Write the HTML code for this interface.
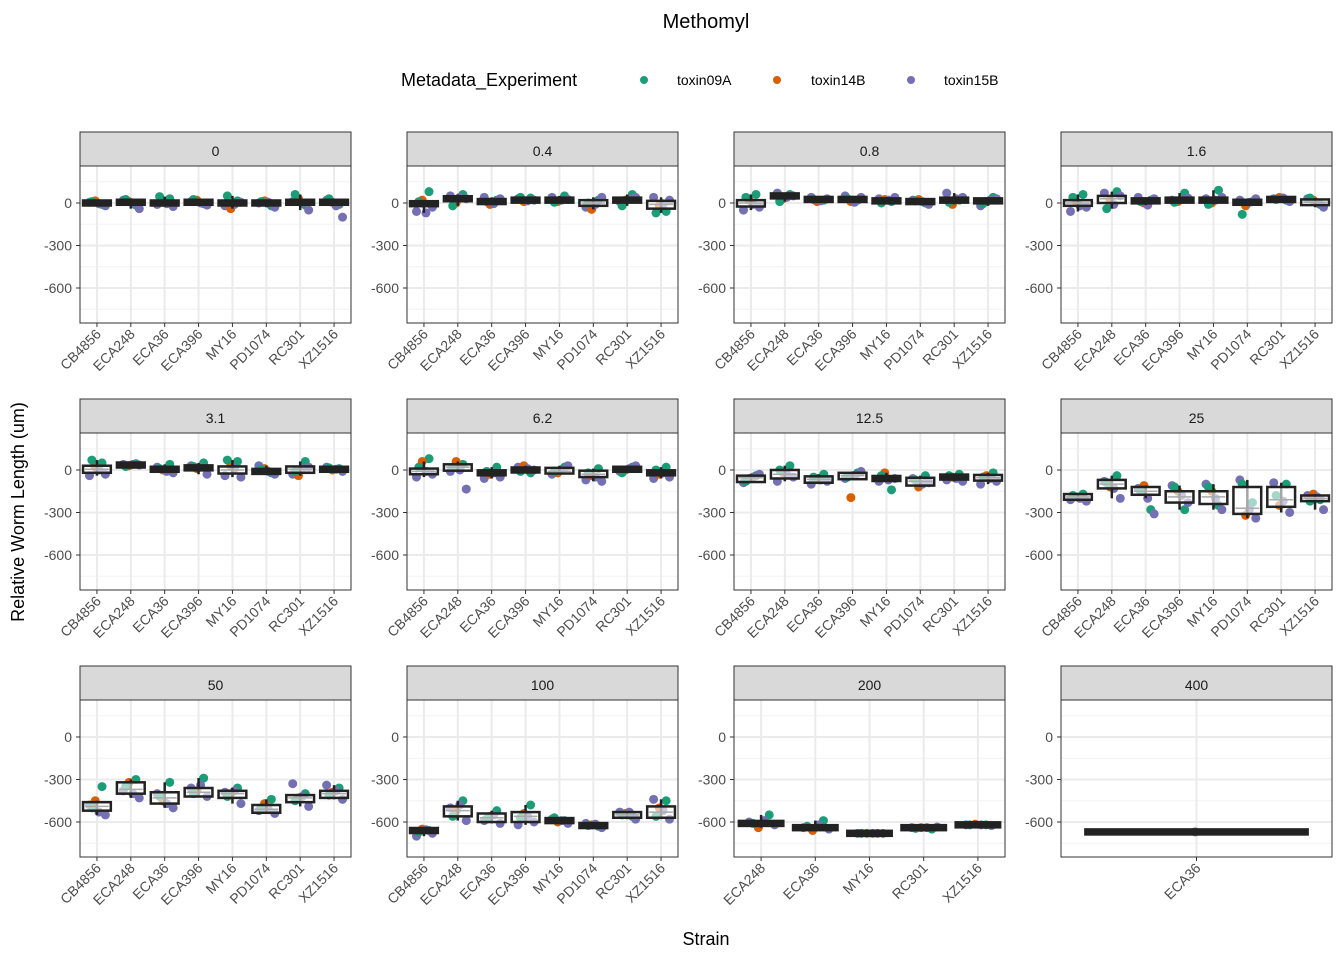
<!DOCTYPE html>
<html><head><meta charset="utf-8"><style>
body{margin:0;background:#fff;width:1344px;height:960px;overflow:hidden}
svg{font-family:"Liberation Sans",Arial,sans-serif}
</style></head><body>
<svg id="chart" width="1344" height="960" xmlns="http://www.w3.org/2000/svg">
<text x="706" y="28" font-size="20" text-anchor="middle" fill="#000">Methomyl</text>
<g>
<text x="401" y="86" font-size="18" fill="#000">Metadata_Experiment</text>
<circle cx="644" cy="80" r="4" fill="#1B9E77"/>
<text x="677" y="85" font-size="14">toxin09A</text>
<circle cx="777" cy="80" r="4" fill="#D95F02"/>
<text x="811" y="85" font-size="14">toxin14B</text>
<circle cx="911" cy="80" r="4" fill="#7570B3"/>
<text x="944" y="85" font-size="14">toxin15B</text>
</g>
<text x="706" y="945" font-size="18" text-anchor="middle">Strain</text>
<text x="0" y="0" font-size="18" text-anchor="middle" transform="translate(24,512) rotate(-90)">Relative Worm Length (um)</text>
<g id="panels"></g>
</svg>
<script>
const doses=['0','0.4','0.8','1.6','3.1','6.2','12.5','25','50','100','200','400'];
const S8=['CB4856','ECA248','ECA36','ECA396','MY16','PD1074','RC301','XZ1516'];
const strains=[S8,S8,S8,S8,S8,S8,S8,S8,S8,S8,['ECA248','ECA36','MY16','RC301','XZ1516'],['ECA36']];
const yTicks=[0,-300,-600];
const MED=[[0,5,0,5,0,0,5,5],[-5,30,10,20,20,0,20,-10],[0,50,25,25,15,10,20,15],[0,30,15,20,20,5,25,5],[5,35,5,15,0,-10,5,5],[-10,20,-20,0,-10,-30,5,-20],[-55,-30,-65,-40,-60,-80,-50,-55],[-190,-100,-150,-190,-190,-270,-210,-200],[-490,-370,-430,-390,-400,-510,-430,-400],[-660,-520,-570,-560,-590,-625,-550,-530],[-610,-640,-680,-640,-620],[-670]];
const Q1=[[-15,-10,-15,-10,-20,-15,-15,-10],[-25,15,-5,10,5,-20,10,-40],[-25,30,15,15,5,0,5,0],[-20,0,0,10,5,-15,15,-15],[-20,25,-10,0,-25,-25,-20,-5],[-30,-5,-35,-15,-25,-50,-10,-35],[-85,-60,-90,-65,-75,-110,-70,-75],[-210,-130,-175,-230,-240,-310,-260,-220],[-520,-400,-470,-420,-430,-535,-460,-430],[-675,-560,-600,-600,-600,-635,-570,-570],[-625,-655,-685,-645,-625],[-673]];
const Q3=[[10,20,15,15,15,10,20,15],[10,45,25,30,30,20,35,15],[20,65,35,40,30,20,35,30],[20,50,30,35,40,20,40,25],[30,45,20,30,25,5,25,15],[10,40,-5,20,15,-5,20,0],[-40,0,-45,-20,-40,-55,-35,-35],[-170,-70,-120,-150,-150,-120,-120,-180],[-460,-320,-390,-360,-380,-480,-410,-380],[-650,-490,-540,-530,-570,-615,-530,-490],[-590,-625,-675,-635,-615],[-667]];
const PTS=[
[[5,-10,15,-20,10,-5],[20,-15,10,-40,25,0],[-10,30,5,-25,45,-5],[10,-5,20,-15,25,0],[-20,15,-40,5,50,-10],[0,-20,15,-30,10,5],[10,-15,30,-50,60,0],[20,-10,5,-100,30,-20]],
[[-60,80,20,-30,10,-70],[50,60,0,30,-20,40],[40,20,-10,30,10,-5],[30,35,10,20,40,15],[40,50,10,25,5,20],[-30,20,-45,40,0,-10],[10,60,20,40,-20,30],[40,-60,-20,20,-70,-5]],
[[-50,60,20,-30,40,-10],[70,60,30,50,10,40],[40,20,10,30,25,15],[50,20,10,40,30,5],[30,10,25,40,0,20],[20,0,25,-10,15,10],[70,20,-10,40,5,30],[-20,40,10,30,-5,20]],
[[-60,60,10,-30,40,-20],[70,80,20,50,-40,-10],[40,20,0,30,10,-15],[20,70,10,35,5,25],[30,90,0,40,-10,20],[20,10,-20,30,-80,5],[30,20,40,10,25,35],[30,-10,20,-30,35,0]],
[[-40,50,20,-30,70,0],[40,45,30,35,25,40],[20,40,0,-20,10,-10],[30,50,10,-30,25,20],[-40,60,30,-50,70,10],[30,-20,10,-30,5,-10],[-30,60,-40,20,-10,10],[20,10,0,-10,15,5]],
[[-50,80,60,-30,20,-10],[-10,40,60,-135,20,0],[-60,20,-30,-50,-10,-20],[20,-20,30,0,-10,10],[-30,20,-20,30,-10,0],[-70,10,-40,-80,-20,-50],[-10,20,0,30,-20,10],[-60,20,-30,-50,0,-20]],
[[-90,-40,-60,-30,-80,-50],[-80,30,-20,-50,0,-30],[-100,-30,-60,-80,-50,-70],[-60,-20,-195,-10,-50,-40],[-80,-140,-20,-60,-40,-70],[-60,-40,-120,-90,-70,-100],[-70,-30,-50,-80,-40,-60],[-100,-20,-40,-80,-50,-60]],
[[-210,-170,-190,-220,-180,-200],[-80,-40,-120,-200,-90,-130],[-130,-280,-110,-310,-150,-200],[-110,-280,-150,-230,-120,-180],[-100,-250,-150,-280,-120,-200],[-70,-230,-320,-340,-100,-280],[-90,-100,-250,-300,-180,-220],[-180,-210,-170,-280,-220,-190]],
[[-480,-350,-450,-550,-500,-530],[-380,-300,-320,-430,-350,-400],[-400,-320,-450,-500,-420,-470],[-360,-290,-380,-420,-400,-340],[-390,-360,-400,-470,-420,-380],[-520,-440,-470,-540,-500,-510],[-330,-400,-430,-490,-450,-420],[-340,-360,-390,-440,-410,-380]],
[[-700,-660,-650,-680,-670,-655],[-500,-450,-520,-590,-560,-480],[-590,-520,-560,-610,-580,-550],[-620,-480,-540,-600,-570,-560],[-580,-590,-600,-610,-570,-590],[-610,-630,-620,-640,-625,-615],[-530,-560,-540,-580,-550,-530],[-440,-450,-500,-580,-560,-520]],
[[-600,-550,-640,-620,-610,-590],[-640,-590,-660,-650,-630,-620],[-680,-680,-680,-680,-680,-680],[-640,-650,-640,-635,-645,-640],[-620,-620,-615,-625,-620,-620]],
[[-670]]];
const COLORS=['#1B9E77','#D95F02','#7570B3'];
const EXP_IDX=[2,0,1,2,0,2];
const JIT=[-0.22,0.15,-0.05,0.25,-0.15,0.06];
const NS='http://www.w3.org/2000/svg';
const root=document.getElementById('panels');
function mk(tag,attrs,parent){const e=document.createElementNS(NS,tag);for(const k in attrs)e.setAttribute(k,attrs[k]);parent.appendChild(e);return e;}
const colX=[80,407,734,1061],rowY=[132,399,666],PW=271,SH=34,PH=157;
const YMAX=261,YMIN=-847;
doses.forEach((d,pi)=>{
  const cx0=colX[pi%4],sy=rowY[Math.floor(pi/4)],py=sy+SH;
  const y=v=>py+(YMAX-v)/(YMAX-YMIN)*PH;
  const st=strains[pi],n=st.length,step=PW/n;
  const x=i=>cx0+(i+0.5)*step;
  const g=mk('g',{},root);
  
  
  const strip=mk('rect',{x:cx0,y:sy,width:PW,height:SH,fill:'#D9D9D9',stroke:'#333','stroke-width':1},g);
  
  
  const stl=mk('text',{x:cx0+PW/2,y:sy+24,'font-size':14,'text-anchor':'middle',fill:'#1a1a1a'},g);stl.textContent=d;
  
  
  mk('rect',{x:cx0,y:py,width:PW,height:PH,fill:'#fff'},g);
  [150,-150,-450,-750].forEach(v=>mk('line',{x1:cx0,x2:cx0+PW,y1:y(v),y2:y(v),stroke:'#F2F2F2','stroke-width':1},g));
  yTicks.forEach(v=>{
    mk('line',{x1:cx0,x2:cx0+PW,y1:y(v),y2:y(v),stroke:'#EBEBEB','stroke-width':2},g);
    mk('line',{x1:cx0-4,x2:cx0,y1:y(v),y2:y(v),stroke:'#333','stroke-width':1},g);
    const t=mk('text',{x:cx0-8,y:y(v)+5,'font-size':14,'text-anchor':'end',fill:'#4d4d4d'},g);t.textContent=v;
    
    
  });
  st.forEach((s,i)=>{
    mk('line',{x1:x(i),x2:x(i),y1:py,y2:py+PH,stroke:'#EBEBEB','stroke-width':2},g);
    mk('line',{x1:x(i),x2:x(i),y1:py+PH,y2:py+PH+4,stroke:'#333','stroke-width':1},g);
    const t=mk('text',{x:0,y:0,'font-size':14,'text-anchor':'end',fill:'#4d4d4d',transform:`translate(${x(i)+5},${py+PH+12}) rotate(-45)`},g);t.textContent=s;
    
    
  });
  st.forEach((s,i)=>{
    const pts=PTS[pi][i];
    pts.forEach((v,k)=>{
      const c=mk('circle',{cx:x(i)+JIT[k%6]*step*(n===1?0.02:1),cy:y(v),r:4.5,fill:COLORS[EXP_IDX[k%6]]},g);
      
      
    });
    const q1=Q1[pi][i],q3=Q3[pi][i],md=MED[pi][i],iqr=q3-q1;
    const inr=pts.filter(v=>v>=q1-1.5*iqr&&v<=q3+1.5*iqr);
    const lo=Math.min(q1,...inr),hi=Math.max(q3,...inr);
    const bw=Math.min(step*0.82,255);
    mk('line',{x1:x(i),x2:x(i),y1:y(hi),y2:y(lo),stroke:'#222','stroke-width':2.5},g);
    const h=y(q1)-y(q3);
    const b=mk('rect',{x:x(i)-bw/2,y:h<5?y(md)-2.5:y(q3),width:bw,height:Math.max(h,5),fill:h<5?'#222':'rgba(255,255,255,0.6)',stroke:'#222','stroke-width':2.5},g);
    
    
    if(h>=5)mk('line',{x1:x(i)-bw/2+2,x2:x(i)+bw/2-2,y1:y(md),y2:y(md),stroke:'#aaa','stroke-width':1.5},g);
  });
  mk('rect',{x:cx0,y:py,width:PW,height:PH,fill:'none',stroke:'#333','stroke-width':1},g);
});
</script>
</body></html>
